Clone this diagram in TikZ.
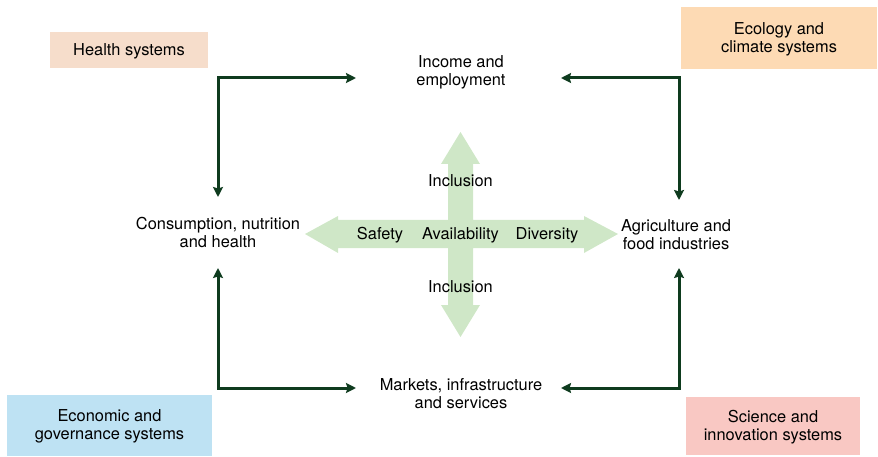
\documentclass[tikz,border=0pt]{standalone}
\usepackage{fontspec}
\setmainfont{TeX Gyre Heros}
\usetikzlibrary{arrows.meta}
\definecolor{linkgreen}{RGB}{14,59,30}
\definecolor{crossgreen}{RGB}{207,231,199}
\definecolor{healthfill}{RGB}{246,221,203}
\definecolor{ecofill}{RGB}{253,218,180}
\definecolor{econfill}{RGB}{190,226,243}
\definecolor{scifill}{RGB}{249,200,195}
\tikzset{
  label text/.style={align=center,font=\fontsize{16.4}{18}\selectfont,inner sep=0pt,yshift=-1pt},
  system box/.style={inner sep=0pt,minimum width=#1},
  link/.style={linkgreen,line width=3pt,
    arrows={Stealth[length=10pt,width=10pt,inset=1.5pt]-Stealth[length=10pt,width=10pt,inset=1.5pt]}}
}
\begin{document}
\begin{tikzpicture}[x=1pt,y=-1pt]
  \useasboundingbox (0,0) rectangle (878,457);
  % systems
  \node [system box=158pt,minimum height=36pt,fill=healthfill,
    label={[label text]center:Health systems}] (health) at (129,50) {};
  \node [system box=196pt,minimum height=62pt,fill=ecofill,
    label={[label text]center:Ecology and\\climate systems}] (ecology) at (779,38) {};
  \node [system box=205pt,minimum height=61pt,fill=econfill,
    label={[label text]center:Economic and\\governance systems}] (economic) at (109.5,425.5) {};
  \node [system box=174pt,minimum height=58pt,fill=scifill,
    label={[label text]center:Science and\\innovation systems}] (science) at (773,426) {};
  % cross
  \fill [crossgreen]
    (460.5,132)
    -- (480,164) -- (473,164) -- (473,220)
    -- (584,220) -- (584,216) -- (618,234) -- (584,253) -- (584,248)
    -- (473,248) -- (473,305) -- (480,305) -- (460.5,337) -- (441,305) -- (448,305)
    -- (448,248) -- (338,248) -- (338,253) -- (305,234) -- (338,216) -- (338,220)
    -- (448,220) -- (448,164) -- (441,164)
    -- cycle
  ;
  \node [label text] (inc up) at (460.5,180) {Inclusion};
  \node [label text] (inc down) at (460.5,286) {Inclusion};
  \node [label text] (safety) at (380,234) {Safety};
  \node [label text] (avail) at (460.5,234) {Availability};
  \node [label text] (divers) at (547,234) {Diversity};
  % corners of the food system
  \node [label text] (income) at (461,71) {Income and\\employment};
  \node [label text] (cons) at (218,231) {Consumption, nutrition\\and health};
  \node [label text] (agri) at (676,234) {Agriculture and\\food industries};
  \node [label text] (markets) at (461,393) {Markets, infrastructure\\and services};
  \coordinate (income w) at (356,78);
  \coordinate (income e) at (561,78);
  \coordinate (markets w) at (356,388);
  \coordinate (markets e) at (561,388);
  \coordinate (cons n) at (218,197);
  \coordinate (cons s) at (218,268);
  \coordinate (agri n) at (679,200);
  \coordinate (agri s) at (679,268);
  \draw [link] (cons n) |- (income w);
  \draw [link] (agri n) |- (income e);
  \draw [link] (cons s) |- (markets w);
  \draw [link] (agri s) |- (markets e);
\end{tikzpicture}
\end{document}
